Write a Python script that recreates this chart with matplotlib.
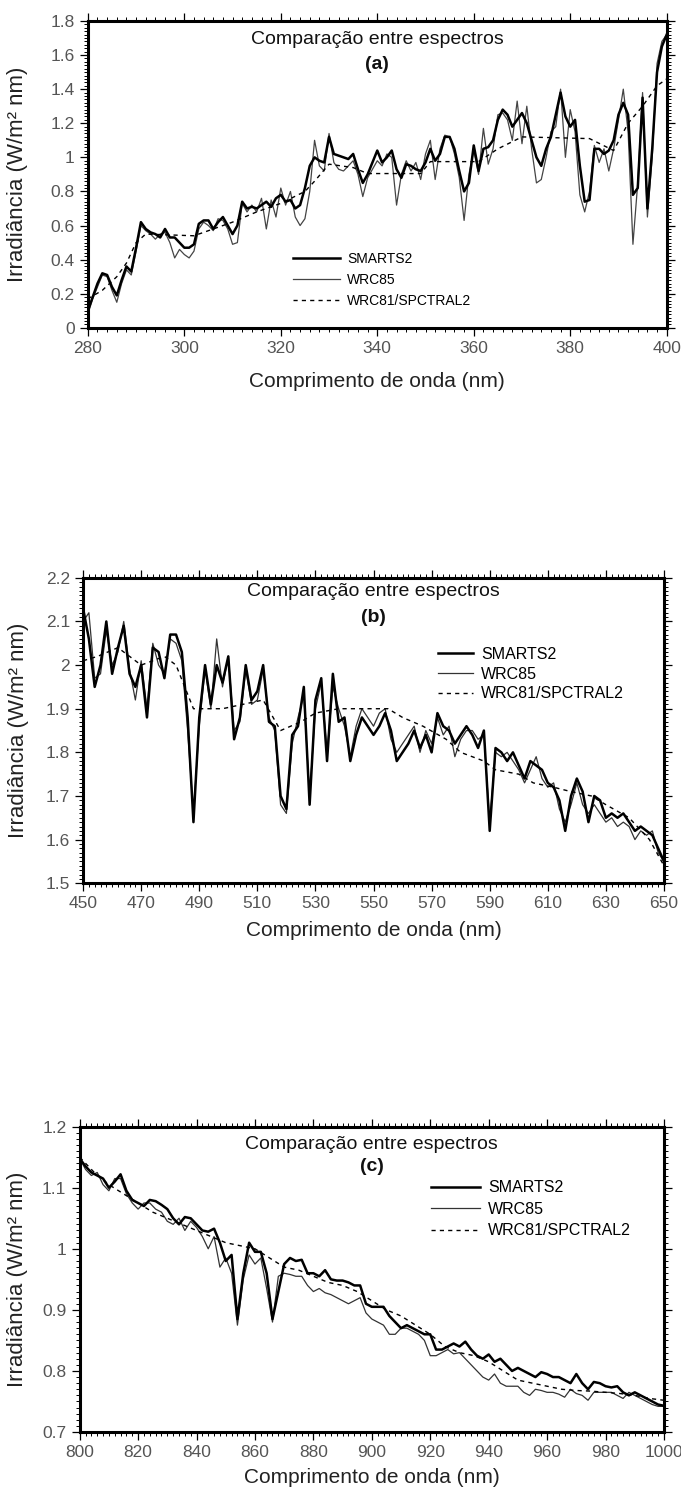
import matplotlib
matplotlib.use("Agg")
import matplotlib.pyplot as plt
import numpy as np
from matplotlib.ticker import MultipleLocator, FixedLocator, FuncFormatter

plt.rcParams["font.family"] = ["Liberation Sans", "DejaVu Sans"]

# ---------------------------------------------------------------------------
# Panel (a): 280-400 nm, 1 nm step
# ---------------------------------------------------------------------------
wl_a = list(range(280, 401))
smarts_a = [
    0.10, 0.18, 0.26, 0.32, 0.31, 0.24, 0.19, 0.28, 0.36, 0.33,
    0.47, 0.62, 0.58, 0.56, 0.55, 0.53, 0.58, 0.53, 0.53, 0.50,
    0.47, 0.47, 0.49, 0.61, 0.63, 0.63, 0.58, 0.62, 0.65, 0.60,
    0.55, 0.60, 0.74, 0.70, 0.71, 0.70, 0.72, 0.74, 0.71, 0.76,
    0.78, 0.74, 0.75, 0.70, 0.72, 0.82, 0.95, 1.00, 0.98, 0.97,
    1.12, 1.02, 1.01, 1.00, 0.99, 1.02, 0.93, 0.85, 0.90, 0.97,
    1.04, 0.97, 1.00, 1.04, 0.93, 0.88, 0.96, 0.95, 0.93, 0.92,
    0.97, 1.05, 0.98, 1.02, 1.12, 1.12, 1.05, 0.92, 0.80, 0.85,
    1.07, 0.92, 1.05, 1.06, 1.10, 1.22, 1.28, 1.25, 1.18, 1.22,
    1.26, 1.20, 1.10, 1.00, 0.95, 1.05, 1.12, 1.25, 1.38, 1.24,
    1.18, 1.22, 0.95, 0.74, 0.75, 1.05, 1.05, 1.02, 1.04, 1.10,
    1.25, 1.32, 1.25, 0.78, 0.82, 1.35, 0.70, 1.05, 1.50, 1.65,
    1.72,
]
wrc85_a = [
    0.08, 0.17, 0.24, 0.31, 0.30, 0.22, 0.15, 0.26, 0.34, 0.31,
    0.45, 0.60, 0.57, 0.55, 0.52, 0.55, 0.56, 0.50, 0.41, 0.46,
    0.43, 0.41, 0.45, 0.58, 0.62, 0.60, 0.57, 0.64, 0.63, 0.58,
    0.49, 0.50, 0.73, 0.68, 0.72, 0.68, 0.76, 0.58, 0.75, 0.65,
    0.82, 0.72, 0.80, 0.65, 0.60, 0.64, 0.80, 1.10, 0.95, 0.92,
    1.14, 0.97, 0.93, 0.92, 0.95, 0.98, 0.90, 0.77, 0.88, 0.93,
    0.98, 0.95, 1.02, 1.00, 0.72, 0.90, 0.98, 0.92, 0.97, 0.87,
    1.02, 1.10, 0.87, 1.05, 1.13, 1.12, 1.02, 0.88, 0.63, 0.90,
    1.04, 0.90, 1.17, 0.96, 1.05, 1.25, 1.26, 1.22, 1.10, 1.33,
    1.08, 1.30, 1.05, 0.85, 0.87, 1.00, 1.15, 1.18, 1.40, 1.00,
    1.28, 1.15, 0.78, 0.68, 0.80, 1.07, 0.97, 1.05, 0.92, 1.05,
    1.22, 1.40, 1.15, 0.49, 0.85, 1.38, 0.65, 1.00, 1.55, 1.68,
    1.72,
]
wl_a_coarse = [280, 283, 286, 288, 290, 292, 302, 305, 310, 315, 320, 325,
               327, 330, 335, 338, 349, 351, 361, 365, 370, 384, 389, 392,
               395, 398, 400]
spctral_a = [0.17, 0.22, 0.30, 0.38, 0.50, 0.55, 0.54, 0.57, 0.62, 0.68,
             0.73, 0.80, 0.86, 0.96, 0.94, 0.905, 0.905, 0.975, 0.975, 1.05,
             1.12, 1.11, 1.04, 1.20, 1.30, 1.42, 1.46]

# ---------------------------------------------------------------------------
# Panel (b): 450-650 nm, 2 nm step
# ---------------------------------------------------------------------------
wl_b = list(range(450, 651, 2))
smarts_b = [
    2.13, 2.06, 1.95, 2.00, 2.10, 1.98, 2.04, 2.09, 1.98, 1.95,
    2.00, 1.88, 2.04, 2.03, 1.97, 2.07, 2.07, 2.03, 1.88, 1.64,
    1.88, 2.00, 1.91, 2.00, 1.96, 2.02, 1.83, 1.88, 2.00, 1.92,
    1.94, 2.00, 1.87, 1.86, 1.70, 1.67, 1.84, 1.86, 1.95, 1.68,
    1.92, 1.97, 1.78, 1.98, 1.87, 1.88, 1.78, 1.84, 1.88, 1.86,
    1.84, 1.86, 1.89, 1.85, 1.78, 1.80, 1.82, 1.85, 1.81, 1.84,
    1.80, 1.89, 1.86, 1.85, 1.82, 1.84, 1.86, 1.84, 1.81, 1.85,
    1.62, 1.81, 1.80, 1.78, 1.80, 1.77, 1.74, 1.78, 1.77, 1.76,
    1.73, 1.72, 1.69, 1.62, 1.70, 1.74, 1.71, 1.64, 1.70, 1.69,
    1.65, 1.66, 1.65, 1.66, 1.64, 1.62, 1.63, 1.62, 1.61, 1.58,
    1.55,
]
wrc85_b = [
    2.10, 2.12, 1.97, 1.98, 2.08, 2.00, 2.03, 2.10, 1.99, 1.92,
    2.01, 1.90, 2.05, 2.00, 1.98, 2.06, 2.05, 2.01, 1.85, 1.66,
    1.86, 1.99, 1.90, 2.06, 1.95, 2.02, 1.85, 1.87, 1.99, 1.91,
    1.92, 1.99, 1.88, 1.85, 1.68, 1.66, 1.82, 1.88, 1.93, 1.70,
    1.90, 1.96, 1.80, 1.95, 1.90, 1.86, 1.79, 1.86, 1.90, 1.88,
    1.86, 1.89, 1.90, 1.83, 1.80, 1.82, 1.84, 1.86, 1.80, 1.85,
    1.82, 1.88, 1.84, 1.86, 1.79, 1.83, 1.85, 1.85, 1.83, 1.84,
    1.64, 1.80, 1.79, 1.80, 1.78, 1.76, 1.73, 1.76, 1.79, 1.74,
    1.72, 1.73, 1.67, 1.64, 1.68, 1.73, 1.68, 1.66, 1.68, 1.66,
    1.64, 1.65, 1.63, 1.64, 1.63, 1.60, 1.62, 1.61, 1.62, 1.57,
    1.55,
]
wl_b_coarse = [450, 455, 462, 470, 478, 482, 485, 488, 492, 498, 505, 512,
               518, 525, 530, 538, 555, 560, 567, 575, 580, 588, 592, 600,
               605, 612, 618, 625, 630, 638, 645, 650]
spctral_b = [2.01, 2.02, 2.04, 2.00, 2.02, 2.00, 1.95, 1.90, 1.90, 1.90,
             1.91, 1.92, 1.85, 1.87, 1.89, 1.90, 1.90, 1.88, 1.86, 1.83,
             1.80, 1.78, 1.76, 1.75, 1.73, 1.72, 1.71, 1.70, 1.68, 1.65,
             1.60, 1.54]

# ---------------------------------------------------------------------------
# Panel (c): 800-1000 nm, 2 nm step
# ---------------------------------------------------------------------------
wl_c = list(range(800, 1001, 2))
smarts_c = [
    1.148, 1.135, 1.125, 1.120, 1.115, 1.100, 1.110, 1.122, 1.095, 1.080,
    1.075, 1.070, 1.080, 1.078, 1.072, 1.065, 1.050, 1.040, 1.052, 1.050,
    1.040, 1.030, 1.028, 1.033, 1.010, 0.980, 0.990, 0.885, 0.960, 1.010,
    0.995, 0.995, 0.960, 0.885, 0.930, 0.975, 0.985, 0.980, 0.982, 0.960,
    0.960, 0.955, 0.965, 0.950, 0.948, 0.948, 0.945, 0.940, 0.940, 0.910,
    0.905, 0.905, 0.905, 0.890, 0.880, 0.870, 0.875, 0.870, 0.865, 0.860,
    0.860, 0.835, 0.835, 0.840, 0.845, 0.840, 0.848, 0.835, 0.825, 0.820,
    0.827, 0.815, 0.820, 0.810, 0.800, 0.805, 0.800, 0.795, 0.790, 0.798,
    0.795, 0.790, 0.790, 0.785, 0.780, 0.795, 0.780, 0.770, 0.782, 0.780,
    0.775, 0.773, 0.775, 0.765, 0.760, 0.765, 0.760, 0.755, 0.750, 0.745,
    0.743,
]
wrc85_c = [
    1.148, 1.130, 1.120, 1.125, 1.105, 1.095, 1.115, 1.115, 1.090, 1.075,
    1.065, 1.075, 1.075, 1.065, 1.060, 1.045, 1.040, 1.050, 1.030, 1.045,
    1.035, 1.020, 1.000, 1.020, 0.970, 0.985, 0.960, 0.875, 0.950, 0.990,
    0.975, 0.985, 0.935, 0.880, 0.955, 0.960, 0.958, 0.955, 0.955, 0.940,
    0.930, 0.935, 0.928, 0.925, 0.920, 0.915, 0.910, 0.915, 0.920, 0.895,
    0.885, 0.880, 0.875, 0.860, 0.860, 0.870, 0.870, 0.865, 0.860, 0.850,
    0.825, 0.825, 0.830, 0.835, 0.828, 0.830, 0.820, 0.810, 0.800, 0.790,
    0.785, 0.795, 0.780, 0.775, 0.775, 0.775, 0.765, 0.760, 0.770, 0.768,
    0.765, 0.765, 0.762, 0.757, 0.770, 0.763, 0.760, 0.752, 0.765, 0.765,
    0.765, 0.765, 0.760, 0.755, 0.765, 0.760, 0.755, 0.750, 0.745, 0.742,
    0.742,
]
wl_c_coarse = list(range(800, 1001, 5))
spctral_c = [1.150, 1.125, 1.105, 1.090, 1.075, 1.060, 1.050, 1.040, 1.030,
             1.020, 1.010, 1.005, 1.000, 0.985, 0.970, 0.965, 0.955, 0.945,
             0.940, 0.930, 0.915, 0.900, 0.890, 0.875, 0.860, 0.840, 0.830,
             0.825, 0.815, 0.800, 0.785, 0.780, 0.775, 0.770, 0.768, 0.767,
             0.765, 0.763, 0.760, 0.755, 0.752]

labels = ["SMARTS2", "WRC85", "WRC81/SPCTRAL2"]
TITLE = "Comparação entre espectros"
XLABEL = "Comprimento de onda (nm)"
YLABEL = "Irradiância (W/m² nm)"


def draw_panel(ax, series, tag, xlim, ylim, ymajor, yminor, legend_anchor,
               title_y, tag_y, ylab_x, xlab_y, leg_size=10.5, leg_hlen=3.6,
               leg_space=0.45, wrc_color="#333333"):
    (wl, smarts, wrc85, wl_c2, spctral) = series
    ax.plot(wl, wrc85, color=wrc_color, lw=0.9, label=labels[1], zorder=2)
    ax.plot(wl, smarts, color="black", lw=1.8, label=labels[0], zorder=3)
    ax.plot(wl_c2, spctral, color="black", lw=1.0, ls=(0, (3, 3)),
            label=labels[2], zorder=4)

    ax.set_xlim(*xlim)
    ax.set_ylim(*ylim)
    ax.xaxis.set_major_locator(FixedLocator(np.arange(xlim[0], xlim[1] + 1, 20)))
    ax.xaxis.set_minor_locator(MultipleLocator(2))
    ax.yaxis.set_major_locator(MultipleLocator(ymajor))
    ax.yaxis.set_minor_locator(MultipleLocator(yminor))
    ax.yaxis.set_major_formatter(FuncFormatter(lambda v, p: f"{v:g}"))

    ax.tick_params(which="both", direction="out", top=True, right=True,
                   labelsize=12.5, labelcolor="#555555", width=0.9)
    ax.tick_params(which="major", length=6)
    ax.tick_params(which="minor", length=3, width=0.7)
    for sp in ax.spines.values():
        sp.set_linewidth(2.2)

    ax.set_xlabel(XLABEL, fontsize=15, color="#222222")
    ax.set_ylabel(YLABEL, fontsize=16, color="#222222")
    ax.xaxis.set_label_coords(0.5, xlab_y)
    ax.xaxis.label.set_va("center")
    ax.yaxis.set_label_coords(ylab_x, 0.5)
    ax.yaxis.label.set_va("center")

    ax.text(0.5, title_y, TITLE, transform=ax.transAxes, ha="center",
            va="center", fontsize=14, color="#111111")
    ax.text(0.5, tag_y, tag, transform=ax.transAxes, ha="center",
            va="center", fontsize=14, fontweight="bold", color="#111111")

    handles, labs = ax.get_legend_handles_labels()
    order = [1, 0, 2]
    ax.legend([handles[i] for i in order], [labs[i] for i in order],
              loc="upper left", bbox_to_anchor=legend_anchor, frameon=False,
              fontsize=leg_size, handlelength=leg_hlen, handletextpad=0.5,
              labelspacing=leg_space, borderaxespad=0.0)


fig = plt.figure(figsize=(6.81, 14.97), dpi=100)
ax_a = fig.add_axes([0.129, 0.781, 0.850, 0.205])
ax_b = fig.add_axes([0.122, 0.410, 0.853, 0.204])
ax_c = fig.add_axes([0.117, 0.0434, 0.858, 0.204])

draw_panel(ax_a, (wl_a, smarts_a, wrc85_a, wl_a_coarse, spctral_a), "(a)",
           (280, 400), (0, 1.8), 0.2, 0.02, (0.345, 0.265),
           0.938, 0.857, -0.121, -0.176, leg_size=10, leg_hlen=3.4,
           leg_space=0.5, wrc_color="#444444")
draw_panel(ax_b, (wl_b, smarts_b, wrc85_b, wl_b_coarse, spctral_b), "(b)",
           (450, 650), (1.5, 2.2), 0.1, 0.01, (0.60, 0.795),
           0.954, 0.869, -0.112, -0.154, leg_size=11.5, leg_hlen=2.2,
           leg_space=0.3)
draw_panel(ax_c, (wl_c, smarts_c, wrc85_c, wl_c_coarse, spctral_c), "(c)",
           (800, 1000), (0.7, 1.2), 0.1, 0.01, (0.59, 0.845),
           0.941, 0.869, -0.106, -0.148, leg_size=11.5, leg_hlen=3.1,
           leg_space=0.4)

fig.savefig("out.png", dpi=100)
plt.close(fig)
